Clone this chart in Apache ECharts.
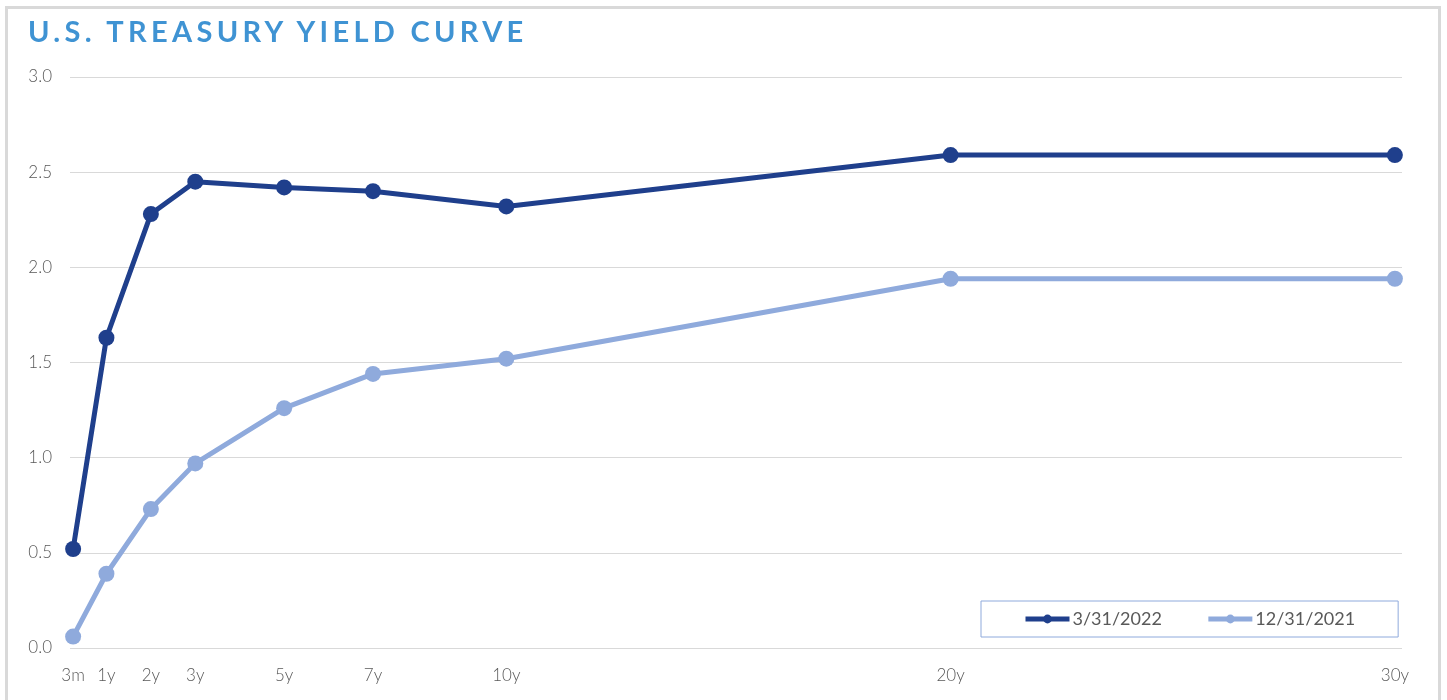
<!DOCTYPE html>
<html>
<head>
<meta charset="utf-8">
<script src="https://cdn.jsdelivr.net/npm/echarts@6/dist/echarts.min.js"></script>
<style>
html, body { margin: 0; padding: 0; background: #fff; }
#frame { position: absolute; left: 5px; top: 6px; width: 1436px; height: 720px; border: 3px solid #d9d9d9; box-sizing: border-box; }
#title { position: absolute; left: 28px; top: 13px; margin: 0; font-family: Lato, sans-serif; font-weight: 700; font-size: 29px; letter-spacing: 4.3px; color: #3f93d3; }
#chart { position: absolute; left: 0; top: 0; width: 1447px; height: 700px; }
</style>
</head>
<body>
<div id="frame"></div>
<div id="chart"></div>
<h1 id="title">U.S. TREASURY YIELD CURVE</h1>
<script>
// maturities in years, labels for the x axis
var maturities = [0.25, 1, 2, 3, 5, 7, 10, 20, 30];
var maturityLabels = ['3m', '1y', '2y', '3y', '5y', '7y', '10y', '20y', '30y'];
var yields2022 = [0.52, 1.63, 2.28, 2.45, 2.42, 2.40, 2.32, 2.59, 2.59];
var yields2021 = [0.06, 0.39, 0.73, 0.97, 1.26, 1.44, 1.52, 1.94, 1.94];
var seriesNames = ['3/31/2022', '12/31/2021'];
var darkBlue = '#1f3f8c';
var lightBlue = '#8faadc';

function pairs(vals) {
	return maturities.map(function (m, i) { return [m, vals[i]]; });
}

var chart = echarts.init(document.getElementById('chart'));
var option = {
	animation: false,
	grid: { left: 70, right: 45, top: 77, bottom: 52 },
	legend: {
		left: 981,
		top: 601,
		padding: [9, 43, 9, 42],
		itemWidth: 44,
		itemHeight: 11,
		itemGap: 44,
		borderColor: lightBlue,
		borderWidth: 1,
		backgroundColor: '#fff',
		textStyle: { fontFamily: 'Lato', fontSize: 18, color: '#595959', padding: [0, 0, 0, -2] },
		data: [
			{ name: seriesNames[0], lineStyle: { width: 5, color: darkBlue }, itemStyle: { color: darkBlue } },
			{ name: seriesNames[1], lineStyle: { width: 5, color: lightBlue }, itemStyle: { color: lightBlue } }
		]
	},
	xAxis: {
		type: 'value',
		min: 0.18,
		max: 30.16,
		axisLine: { show: false },
		axisTick: { show: false },
		splitLine: { show: false },
		axisLabel: {
			customValues: maturities,
			margin: 19,
			fontFamily: 'Lato',
			fontWeight: 300,
			fontSize: 17,
			color: '#595959',
			formatter: function (v) {
				var i = maturities.indexOf(v);
				return i >= 0 ? maturityLabels[i] : '';
			}
		}
	},
	yAxis: {
		type: 'value',
		min: 0,
		max: 3,
		interval: 0.5,
		axisLine: { show: false },
		axisTick: { show: false },
		splitLine: { lineStyle: { color: '#d9d9d9', width: 1 } },
		axisLabel: {
			margin: 18,
			fontFamily: 'Lato',
			fontWeight: 300,
			fontSize: 17,
			color: '#595959',
			formatter: function (v) { return v.toFixed(1); }
		}
	},
	series: [{
		name: seriesNames[0],
		type: 'line',
		data: pairs(yields2022),
		symbol: 'circle',
		symbolSize: 16,
		lineStyle: { width: 5, color: darkBlue },
		itemStyle: { color: darkBlue }
	}, {
		name: seriesNames[1],
		type: 'line',
		data: pairs(yields2021),
		symbol: 'circle',
		symbolSize: 16,
		lineStyle: { width: 5, color: lightBlue },
		itemStyle: { color: lightBlue }
	}]
};
chart.setOption(option);
window.addEventListener('resize', function () {
	chart.resize();
});
</script>
</body>
</html>
